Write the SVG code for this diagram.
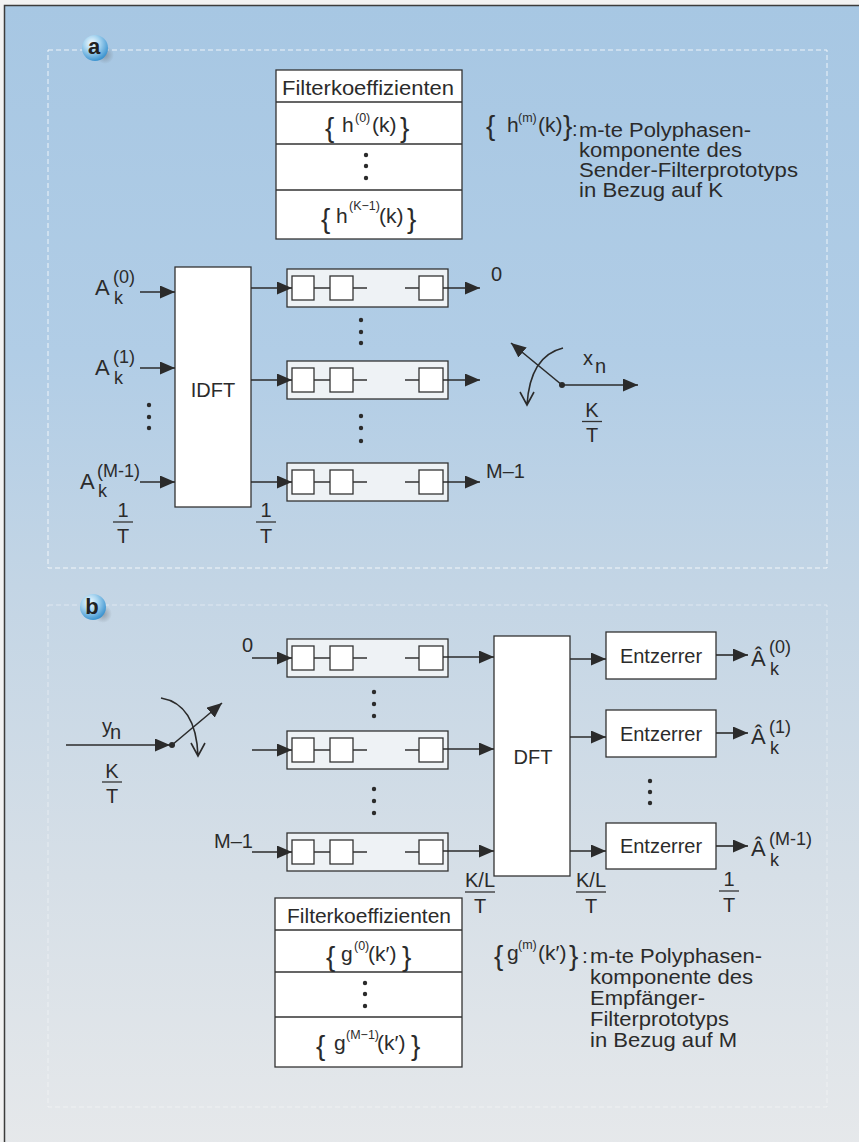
<svg xmlns="http://www.w3.org/2000/svg" width="859" height="1142" viewBox="0 0 859 1142">
<defs>
<linearGradient id="bg" x1="0" y1="0" x2="0" y2="1">
<stop offset="0" stop-color="#a7c7e3"/>
<stop offset="0.3" stop-color="#b1cde6"/>
<stop offset="0.5" stop-color="#c3d5e5"/>
<stop offset="0.75" stop-color="#d6dfe7"/>
<stop offset="1" stop-color="#e7e9eb"/>
</linearGradient>
<radialGradient id="ball" cx="0.38" cy="0.32" r="0.7">
<stop offset="0" stop-color="#f6fcff"/>
<stop offset="0.45" stop-color="#a6d4f0"/>
<stop offset="1" stop-color="#3a92cf"/>
</radialGradient>
<radialGradient id="shadow" cx="0.5" cy="0.5" r="0.5">
<stop offset="0" stop-color="#7a8590" stop-opacity="0.7"/>
<stop offset="1" stop-color="#7a8590" stop-opacity="0"/>
</radialGradient>
<marker id="arr" markerUnits="userSpaceOnUse" markerWidth="15" markerHeight="13" refX="15" refY="6.5" orient="auto">
<path d="M0,0 L15,6.5 L0,13 z" fill="#2b2b2b"/>
</marker>
<g id="chain">
<rect x="0" y="0" width="161" height="38" fill="#eef2f5" stroke="#333" stroke-width="1.3"/>
<rect x="5" y="7" width="22" height="24" fill="#fff" stroke="#333" stroke-width="1.3"/>
<rect x="43" y="7" width="23" height="24" fill="#fff" stroke="#333" stroke-width="1.3"/>
<rect x="132" y="7" width="24" height="24" fill="#fff" stroke="#333" stroke-width="1.3"/>
<path d="M27,19 H43 M66,19 H80 M118,19 H132" stroke="#333" stroke-width="1.3" fill="none"/>
</g>
</defs>
<style>
text{font-family:"Liberation Sans",Arial,Helvetica,sans-serif;fill:#2b2b2b;font-size:20px}
.m{text-anchor:middle}
.f{font-size:21px}
.A{font-size:22px}
.s18{font-size:18px}
.s12{font-size:12.5px}
.br{font-size:28px}
.leg{font-size:21px}
.lega{font-size:20px}
.badge{font-size:22px;font-weight:bold;text-anchor:middle;fill:#222}
.box{fill:#fff;stroke:#333;stroke-width:1.3}
.ln{stroke:#333;stroke-width:1.3;fill:none}
.con{stroke:#2b2b2b;stroke-width:1.6;fill:none}
.frame{fill:none;stroke:#fff;stroke-width:1;stroke-dasharray:5 3;opacity:0.8}
.dot{fill:#2b2b2b}
</style>

<rect x="0" y="0" width="859" height="1142" fill="#f2f2f2"/>
<rect x="4.5" y="5.5" width="880" height="1160" fill="url(#bg)" stroke="#3c3c3c" stroke-width="1.5"/>

<!-- Panel frames -->
<rect class="frame" x="48" y="50" width="779" height="518"/>
<rect class="frame" x="48" y="605" width="779" height="502" style="opacity:0.45"/>

<g id="badge-a">
<circle cx="105" cy="55" r="9" fill="url(#shadow)"/>
<circle cx="95" cy="48" r="13" fill="url(#ball)"/>
<text class="badge" x="94" y="54">a</text>
</g>
<g id="badge-b">
<circle cx="103" cy="614" r="9" fill="url(#shadow)"/>
<circle cx="93" cy="607" r="13" fill="url(#ball)"/>
<text class="badge" x="92" y="614">b</text>
</g>

<!-- ===== Panel a ===== -->
<g id="table-a">
<rect class="box" x="276" y="70" width="186" height="169"/>
<path class="ln" d="M276,102 H462 M276,144 H462 M276,190 H462"/>
<text class="m f" x="368" y="95" textLength="172" lengthAdjust="spacingAndGlyphs">Filterkoeffizienten</text>
<text class="br" x="325" y="137">{</text>
<text class="f" x="342" y="132">h</text>
<text class="s12" x="355" y="122">(0)</text>
<text class="f" x="372" y="132">(k)</text>
<text class="br" x="400" y="137">}</text>
<circle class="dot" cx="366" cy="155" r="2.2"/>
<circle class="dot" cx="366" cy="166" r="2.2"/>
<circle class="dot" cx="366" cy="178" r="2.2"/>
<text class="br" x="321" y="228">{</text>
<text class="f" x="336" y="223">h</text>
<text class="s12" x="349" y="210">(K−1)</text>
<text class="f" x="379" y="223">(k)</text>
<text class="br" x="407" y="228">}</text>
</g>

<g id="legend-a">
<text class="br" x="486" y="135">{</text>
<text class="f" x="507" y="132">h</text>
<text class="s12" x="518" y="122">(m)</text>
<text class="f" x="538" y="132">(k)</text>
<text class="br" x="563" y="135">}</text>
<text class="lega" x="572" y="136">:</text>
<text class="lega" x="579" y="137" textLength="172" lengthAdjust="spacingAndGlyphs">m-te Polyphasen-</text>
<text class="lega" x="579" y="157" textLength="163" lengthAdjust="spacingAndGlyphs">komponente des</text>
<text class="lega" x="579" y="177" textLength="219" lengthAdjust="spacingAndGlyphs">Sender-Filterprototyps</text>
<text class="lega" x="579" y="197" textLength="144" lengthAdjust="spacingAndGlyphs">in Bezug auf K</text>
</g>

<g id="inputs-a">
<text class="A" x="95" y="295">A</text><text class="s18" x="113" y="283">(0)</text><text class="s18" x="114" y="304">k</text>
<text class="A" x="95" y="375">A</text><text class="s18" x="113" y="363">(1)</text><text class="s18" x="114" y="384">k</text>
<circle class="dot" cx="149" cy="405" r="2.2"/>
<circle class="dot" cx="149" cy="417" r="2.2"/>
<circle class="dot" cx="149" cy="428" r="2.2"/>
<text class="A" x="80" y="489">A</text><text class="s18" x="97" y="477">(M-1)</text><text class="s18" x="98" y="497">k</text>
<text class="m" x="123" y="517">1</text>
<path class="ln" d="M113,522 H133"/>
<text class="m" x="123" y="543">T</text>
</g>

<g id="idft">
<rect class="box" x="175" y="267" width="76" height="240"/>
<text class="m" x="213" y="397" font-size="19">IDFT</text>
<text class="m" x="266" y="517">1</text>
<path class="ln" d="M256,522 H276"/>
<text class="m" x="266" y="543">T</text>
</g>

<g id="chains-a">
<use href="#chain" x="287" y="269"/>
<use href="#chain" x="287" y="361"/>
<use href="#chain" x="287" y="463"/>
<circle class="dot" cx="361" cy="320" r="2.2"/>
<circle class="dot" cx="361" cy="332" r="2.2"/>
<circle class="dot" cx="361" cy="343" r="2.2"/>
<circle class="dot" cx="361" cy="416" r="2.2"/>
<circle class="dot" cx="361" cy="428" r="2.2"/>
<circle class="dot" cx="361" cy="441" r="2.2"/>
<text x="491" y="281">0</text>
<text x="486" y="478">M–1</text>
</g>

<g id="switch-a">
<circle class="dot" cx="562" cy="385" r="3"/>
<text x="583" y="365">x</text>
<text x="595" y="373">n</text>
<text class="m" x="592" y="417" font-size="19">K</text>
<path class="ln" d="M582,421.5 H602"/>
<text class="m" x="592" y="442" font-size="19">T</text>
</g>

<!-- ===== Panel b ===== -->
<g id="switch-b">
<circle class="dot" cx="172" cy="745" r="3"/>
<text x="102" y="733" font-size="14">y</text>
<text x="110" y="739">n</text>
<text class="m" x="112" y="778" font-size="19">K</text>
<path class="ln" d="M102,782 H122"/>
<text class="m" x="112" y="803" font-size="19">T</text>
</g>

<g id="chains-b">
<use href="#chain" x="287" y="639"/>
<use href="#chain" x="287" y="731"/>
<use href="#chain" x="287" y="833"/>
<text x="242" y="652">0</text>
<text x="214" y="848">M–1</text>
<circle class="dot" cx="374" cy="692" r="2.2"/>
<circle class="dot" cx="374" cy="704" r="2.2"/>
<circle class="dot" cx="374" cy="716" r="2.2"/>
<circle class="dot" cx="374" cy="789" r="2.2"/>
<circle class="dot" cx="374" cy="801" r="2.2"/>
<circle class="dot" cx="374" cy="813" r="2.2"/>
<text class="m" x="480" y="887" font-size="19">K/L</text>
<path class="ln" d="M465,892 H495"/>
<text class="m" x="480" y="913" font-size="19">T</text>
</g>

<g id="dft">
<rect class="box" x="494" y="636" width="76" height="240"/>
<text class="m" x="533" y="764" font-size="19">DFT</text>
<text class="m" x="591" y="887" font-size="19">K/L</text>
<path class="ln" d="M576,892 H606"/>
<text class="m" x="591" y="913" font-size="19">T</text>
</g>

<g id="entzerrer-0">
<rect class="box" x="606" y="632" width="110" height="47"/>
<text class="m" x="661" y="663">Entzerrer</text>
</g>
<g id="entzerrer-1">
<rect class="box" x="606" y="710" width="110" height="47"/>
<text class="m" x="661" y="741">Entzerrer</text>
</g>
<g id="entzerrer-m1">
<rect class="box" x="606" y="823" width="110" height="46"/>
<text class="m" x="661" y="853">Entzerrer</text>
</g>

<g id="outputs-b">
<text class="A" x="751" y="666">Â</text><text class="s18" x="769" y="653">(0)</text><text class="s18" x="770" y="675">k</text>
<text class="A" x="751" y="744">Â</text><text class="s18" x="769" y="733">(1)</text><text class="s18" x="770" y="754">k</text>
<circle class="dot" cx="650" cy="781" r="2.2"/>
<circle class="dot" cx="650" cy="792" r="2.2"/>
<circle class="dot" cx="650" cy="803" r="2.2"/>
<text class="A" x="751" y="856">Â</text><text class="s18" x="769" y="845">(M-1)</text><text class="s18" x="770" y="866">k</text>
<text class="m" x="729" y="886" font-size="19">1</text>
<path class="ln" d="M719,891 H739"/>
<text class="m" x="729" y="912" font-size="19">T</text>
</g>

<g id="table-b">
<rect class="box" x="275" y="898" width="187" height="169"/>
<path class="ln" d="M275,930 H462 M275,972 H462 M275,1017 H462"/>
<text class="m f" x="369" y="923" textLength="164" lengthAdjust="spacingAndGlyphs">Filterkoeffizienten</text>
<text class="br" x="326" y="966">{</text>
<text class="f" x="341" y="961">g</text>
<text class="s12" x="354" y="950">(0)</text>
<text class="f" x="368" y="961">(k′)</text>
<text class="br" x="402" y="966">}</text>
<circle class="dot" cx="365" cy="983" r="2.2"/>
<circle class="dot" cx="365" cy="994" r="2.2"/>
<circle class="dot" cx="365" cy="1006" r="2.2"/>
<text class="br" x="316" y="1055">{</text>
<text class="f" x="334" y="1050">g</text>
<text class="s12" x="346" y="1039">(M−1)</text>
<text class="f" x="377" y="1050">(k′)</text>
<text class="br" x="411" y="1055">}</text>
</g>

<g id="legend-b">
<text class="br" x="494" y="965">{</text>
<text class="f" x="507" y="960">g</text>
<text class="s12" x="518" y="949">(m)</text>
<text class="f" x="538" y="960">(k′)</text>
<text class="br" x="569" y="965">}</text>
<text class="leg" x="582" y="963">:</text>
<text class="leg" x="590" y="963" textLength="172" lengthAdjust="spacingAndGlyphs">m-te Polyphasen-</text>
<text class="leg" x="590" y="984" textLength="163" lengthAdjust="spacingAndGlyphs">komponente des</text>
<text class="leg" x="590" y="1005" textLength="115" lengthAdjust="spacingAndGlyphs">Empfänger-</text>
<text class="leg" x="590" y="1026" textLength="139" lengthAdjust="spacingAndGlyphs">Filterprototyps</text>
<text class="leg" x="590" y="1047" textLength="147" lengthAdjust="spacingAndGlyphs">in Bezug auf M</text>
</g>

<!-- ===== Connectors ===== -->
<g id="connectors">
<path class="con" marker-end="url(#arr)" d="M140,292 H175"/>
<path class="con" marker-end="url(#arr)" d="M140,368 H175"/>
<path class="con" marker-end="url(#arr)" d="M140,482 H175"/>
<path class="con" marker-end="url(#arr)" d="M251,288 H292"/>
<path class="con" marker-end="url(#arr)" d="M251,380 H292"/>
<path class="con" marker-end="url(#arr)" d="M251,482 H292"/>
<path class="con" marker-end="url(#arr)" d="M443,288 H480"/>
<path class="con" marker-end="url(#arr)" d="M443,380 H480"/>
<path class="con" marker-end="url(#arr)" d="M443,482 H480"/>
<path class="con" marker-end="url(#arr)" d="M562,385 H638"/>
<path class="con" marker-end="url(#arr)" d="M562,385 L511,343"/>
<path class="con" d="M563,348 Q530,356 527,405 M520,392 L527,405 L534,392"/>

<path class="con" marker-end="url(#arr)" d="M66,745 H170"/>
<path class="con" marker-end="url(#arr)" d="M172,745 L222,703"/>
<path class="con" d="M161,698 Q196,704 198,756 M191,743 L198,756 L205,743"/>
<path class="con" marker-end="url(#arr)" d="M252,658 H292"/>
<path class="con" marker-end="url(#arr)" d="M252,750 H292"/>
<path class="con" marker-end="url(#arr)" d="M252,852 H292"/>
<path class="con" marker-end="url(#arr)" d="M443,657 H494"/>
<path class="con" marker-end="url(#arr)" d="M443,749 H494"/>
<path class="con" marker-end="url(#arr)" d="M443,851 H494"/>
<path class="con" marker-end="url(#arr)" d="M570,659 H606"/>
<path class="con" marker-end="url(#arr)" d="M570,737 H606"/>
<path class="con" marker-end="url(#arr)" d="M570,851 H606"/>
<path class="con" marker-end="url(#arr)" d="M716,655 H748"/>
<path class="con" marker-end="url(#arr)" d="M716,733 H748"/>
<path class="con" marker-end="url(#arr)" d="M716,846 H748"/>
</g>
</svg>
